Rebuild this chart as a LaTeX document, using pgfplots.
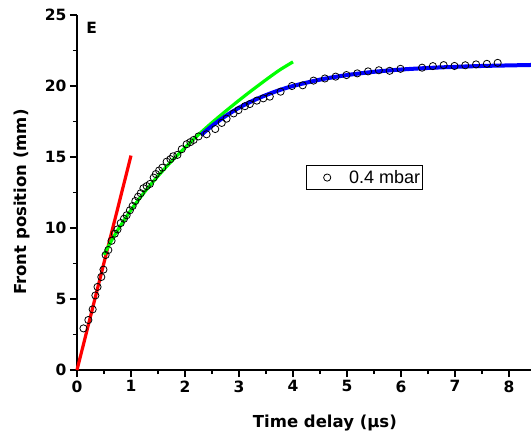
\documentclass[border=0pt]{standalone}
\usepackage{fontspec}
\setmainfont{DejaVu Sans}
\newfontfamily\legfont{Liberation Sans}
\usepackage{pgfplots}
\pgfplotsset{compat=1.18}

\begin{document}
\begin{tikzpicture}
\begin{axis}[
  at={(0,0)}, anchor=south west,
  scale only axis,
  width=454pt, height=355pt,
  xmin=0, xmax=8.407, ymin=0, ymax=25,
  axis x line*=bottom, axis y line*=left,
  x axis line style={line width=2.6pt, draw=black, -},
  y axis line style={line width=2.6pt, draw=black, -},
  xtick={0,1,...,8}, ytick={0,5,...,25},
  minor x tick num=1, minor y tick num=1,
  tick align=outside,
  major tick length=7pt, minor tick length=4pt,
  every tick/.append style={line width=2.2pt, black},
  every minor tick/.append style={line width=1.8pt},
  tick label style={font=\fontsize{15.5}{18}\selectfont\bfseries},
  /pgf/number format/assume math mode=true,
  xlabel={Time delay (μs)},
  ylabel={Front position (mm)},
  label style={font=\fontsize{16.5}{20}\selectfont\bfseries},
  xlabel style={at={(axis description cs:0.546,-0.1493)}, anchor=center},
  ylabel style={at={(axis description cs:-0.1211,0.473)}, anchor=center},
  legend style={at={(axis description cs:0.504,0.577)}, anchor=north west,
    draw=black, line width=0.8pt, inner sep=0pt,
    font=\legfont\fontsize{18}{20}\selectfont},
  legend image code/.code={%
    \path[draw=none] (-21pt,-12pt) rectangle (20pt,12pt);
    \draw[mark repeat=2, mark phase=2, #1] plot coordinates {(-5pt,0pt) (0pt,0pt) (5pt,0pt)};},
  clip=false,
]
% measured front positions
\addplot[only marks, mark=o, mark size=3.6pt, mark options={line width=0.8pt, black}]
coordinates {
(0.12,2.93) (0.21,3.52) (0.29,4.27) (0.34,5.25) (0.38,5.85) (0.45,6.55)
(0.49,7.07) (0.53,8.10) (0.58,8.45) (0.64,9.10) (0.70,9.60) (0.75,9.90)
(0.81,10.35) (0.87,10.65) (0.92,10.90) (0.98,11.25) (1.03,11.55) (1.08,11.90)
(1.13,12.20) (1.18,12.45) (1.23,12.80) (1.29,12.95) (1.35,13.10) (1.42,13.55)
(1.46,13.80) (1.52,14.05) (1.58,14.25) (1.66,14.67) (1.73,14.85) (1.78,15.05)
(1.86,15.15) (1.94,15.55) (2.03,15.90) (2.10,16.05) (2.16,16.20) (2.25,16.45)
(2.40,16.60) (2.56,16.97) (2.68,17.40) (2.77,17.70) (2.90,18.07) (2.99,18.30)
(3.11,18.58) (3.20,18.73) (3.33,18.97) (3.45,19.13) (3.57,19.25) (3.77,19.60)
(3.98,20.00) (4.18,20.05) (4.38,20.38) (4.59,20.53) (4.79,20.66) (4.99,20.77)
(5.19,20.89) (5.39,21.03) (5.59,21.11) (5.79,21.07) (5.99,21.21) (6.39,21.29)
(6.59,21.40) (6.79,21.47) (6.99,21.41) (7.19,21.46) (7.39,21.52) (7.59,21.56)
(7.79,21.63)
};
\addlegendentry{0.4 mbar}
% linear fit
\addplot[red, line width=3.2pt, forget plot] coordinates {(0,0) (1.0,15.1)};
% power-law fit
\addplot[color={rgb,255:red,0;green,255;blue,0}, line width=3.2pt, smooth, forget plot]
coordinates {
(0.5,8.11) (0.6,8.84) (0.75,9.83) (1.0,11.27) (1.25,12.53) (1.5,13.66)
(1.75,14.70) (2.0,15.66) (2.25,16.57) (2.5,17.42) (2.75,18.22) (3.0,18.99)
(3.25,19.73) (3.5,20.44) (3.75,21.12) (4.0,21.70)
};
% saturation fit
\addplot[blue, line width=4pt, smooth, forget plot]
coordinates {
(2.3,16.55) (2.5,17.19) (2.75,17.88) (3.0,18.47) (3.25,18.95) (3.5,19.36)
(3.75,19.71) (4.0,20.00) (4.5,20.45) (5.0,20.77) (5.5,21.00) (6.0,21.16)
(6.5,21.27) (7.0,21.35) (7.5,21.41) (8.0,21.45) (8.407,21.48)
};
\node[anchor=north west, inner sep=0pt, font=\fontsize{15.5}{18}\selectfont\bfseries]
  at (axis description cs:0.02,0.98) {E};
\end{axis}
\pgfresetboundingbox
\useasboundingbox (-77pt,-70pt) rectangle (454pt,370pt);
\end{tikzpicture}
\end{document}
